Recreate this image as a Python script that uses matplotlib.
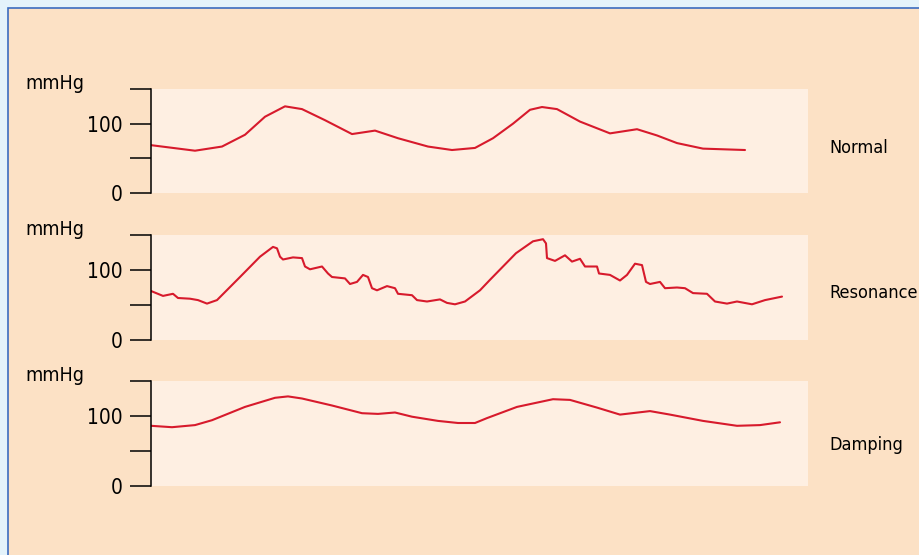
import matplotlib
matplotlib.use("Agg")
import matplotlib.pyplot as plt
from matplotlib.patches import Rectangle

# condensed face of DejaVu Sans stands in for the narrow original font
plt.rcParams['font.family'] = ['DejaVu Sans']
plt.rcParams['font.stretch'] = 'condensed'

# time (ms-ish, along the trace) and pressure (mmHg)
t_normal = [0, 44, 71, 94, 114, 134, 151, 174, 201, 224, 247, 277, 301, 324,
            342, 362, 379, 391, 406, 429, 459, 486, 506, 526, 552, 594]
p_normal = [69, 61, 67, 84, 110, 125, 121, 105, 85, 90, 79, 67, 62, 65,
            79, 100, 120, 124, 121, 103, 86, 92, 83, 72, 64, 62]

t_reson = [0, 12, 22, 27, 39, 47, 56, 66, 89, 109, 122, 126, 129, 132, 142, 151,
           154, 159, 171, 177, 181, 194, 199, 206, 212, 217, 221, 226, 236, 244,
           247, 261, 266, 276, 289, 296, 304, 314, 329, 339, 365, 382, 392, 395,
           396, 404, 414, 421, 429, 434, 446, 448, 459, 469, 476, 484, 491, 495,
           499, 509, 514, 526, 534, 542, 556, 564, 576, 586, 601, 614, 631]
p_reson = [70, 63, 66, 60, 59, 57, 52, 57, 90, 119, 133, 131, 119, 115, 118, 117,
           105, 101, 105, 95, 90, 88, 80, 83, 93, 90, 74, 71, 77, 74,
           66, 64, 57, 55, 58, 53, 51, 55, 71, 86, 124, 141, 144, 138,
           117, 113, 121, 112, 116, 105, 105, 95, 93, 85, 93, 109, 107, 83,
           80, 83, 74, 75, 74, 67, 66, 55, 52, 55, 51, 57, 62]

t_damp = [0, 21, 44, 61, 94, 124, 137, 151, 181, 211, 227, 244, 261, 287, 307,
          324, 336, 366, 402, 419, 446, 469, 499, 519, 552, 586, 609, 629]
p_damp = [86, 84, 87, 94, 113, 126, 128, 125, 115, 104, 103, 105, 99, 93, 90,
          90, 97, 113, 124, 123, 112, 102, 107, 102, 93, 86, 87, 91]

traces = [(t_normal, p_normal, "Normal"),
          (t_reson, p_reson, "Resonance"),
          (t_damp, p_damp, "Damping")]

W, H = 920, 555
fig = plt.figure(figsize=(9.2, 5.55), dpi=100)
fig.patch.set_facecolor("#e4f3fb")
fig.patches.append(Rectangle((8 / W, -0.1), 1.2, 1 - 8 / H + 0.1,
                             transform=fig.transFigure, facecolor="#fce1c5",
                             edgecolor="#3b6cc0", linewidth=1.2, zorder=-5))

# panel tops/bottoms in pixels
panels = [(89, 193), (235, 340), (381, 486)]
label_base = [152.5, 298.5, 450]

for (t, p, name), (top, bot), lb in zip(traces, panels, label_base):
    ax = fig.add_axes([151 / W, 1 - bot / H, 657 / W, (bot - top) / H])
    ax.set_zorder(2)
    ax.set_facecolor("#feefe2")
    ax.plot(t, p, color="#d71a2c", lw=1.5, solid_joinstyle="round",
            solid_capstyle="round")
    ax.set_xlim(0, 657)
    ax.set_ylim(0, 150)
    for s in ["top", "right", "bottom"]:
        ax.spines[s].set_visible(False)
    ax.spines["left"].set_linewidth(1.1)
    ax.set_xticks([])
    ax.set_yticks([0, 50, 100, 150])
    ax.set_yticklabels(["0", "", "100", ""])
    ax.tick_params(axis="y", direction="out", length=15, width=1.1,
                   pad=5.5, labelsize=15)
    fig.text(25 / W, 1 - top / H, "mmHg", fontsize=14, ha="left",
             va="baseline", zorder=3)
    fig.text(829 / W, 1 - lb / H, name, fontsize=13, ha="left",
             va="baseline", zorder=3)

fig.savefig("out.png", dpi=100, facecolor=fig.get_facecolor())
